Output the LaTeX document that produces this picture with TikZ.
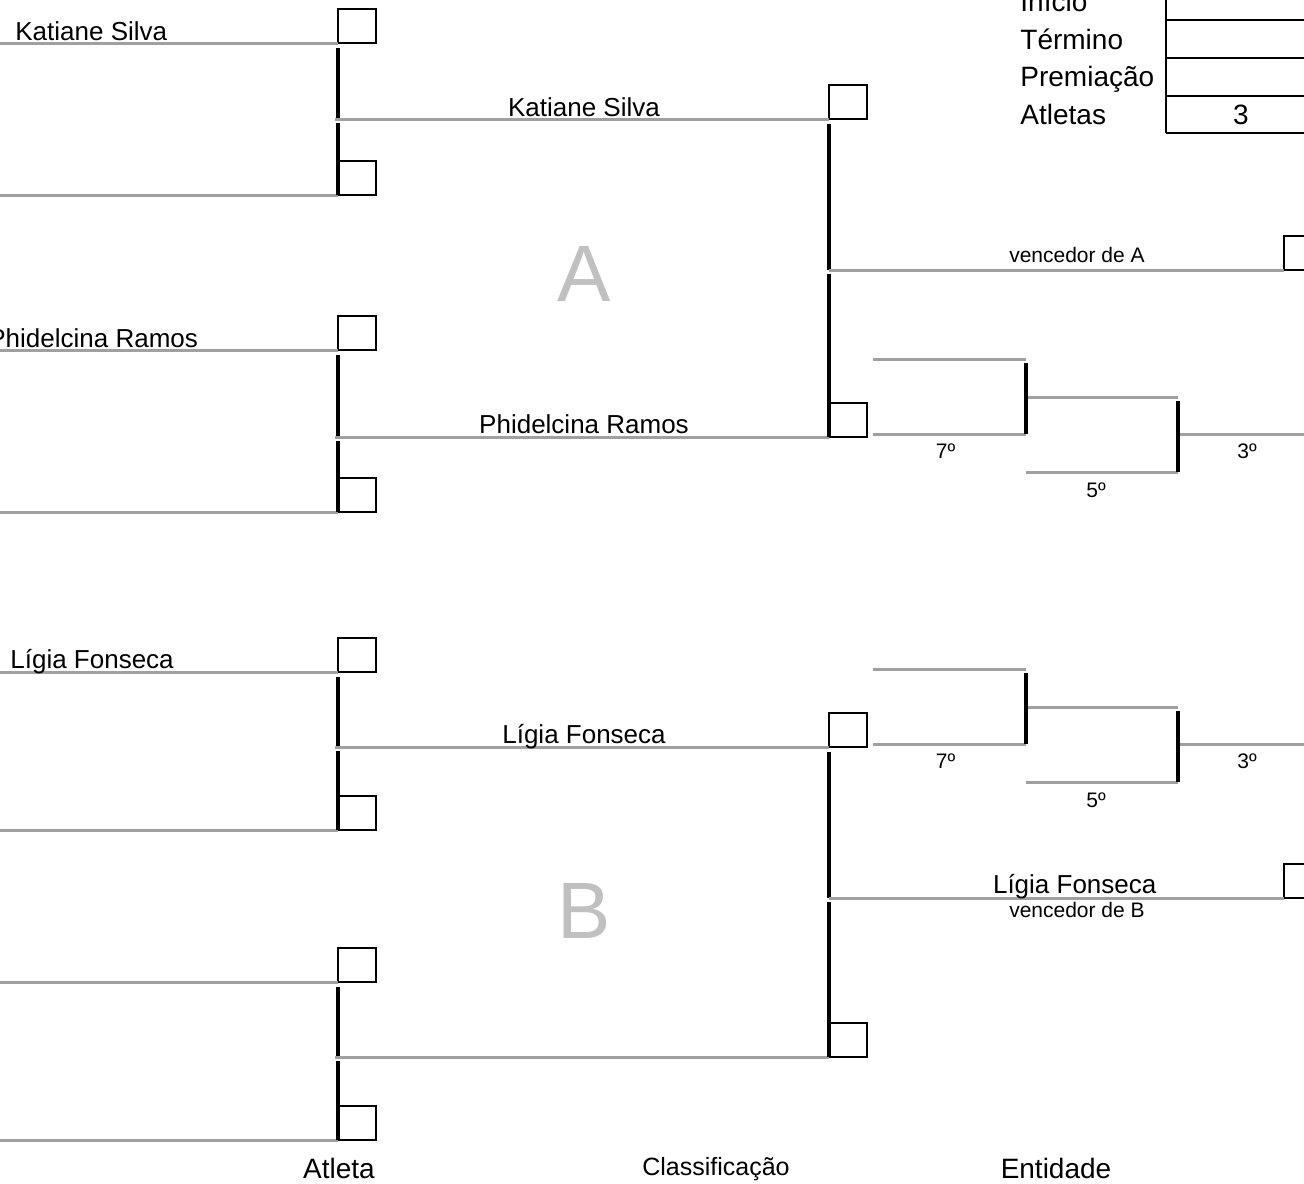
\documentclass[tikz,border=0pt]{standalone}
\usepackage{fontspec}
\setmainfont{Liberation Sans}
\definecolor{linha}{RGB}{160,160,160}
\definecolor{letra}{RGB}{192,192,192}

\begin{document}
\begin{tikzpicture}[x=0.5pt,y=-0.5pt,
  fio/.style={draw=linha,line width=1.5pt},
  chave/.style={draw=black,line width=1.6pt},
  caixa/.style={draw,line width=0.6pt,minimum width=19pt,minimum height=17pt,inner sep=0pt,outer sep=0pt,anchor=south west},
  tabela/.style={draw,line width=0.7pt},
  nome/.style={font=\fontsize{13}{15}\selectfont,inner sep=0pt,anchor=base},
  titulo/.style={font=\fontsize{14}{16}\selectfont,inner sep=0pt,anchor=base},
  lugar/.style={font=\fontsize{10.5}{12}\selectfont,inner sep=0pt,anchor=base},
  grupo/.style={font=\fontsize{40}{44}\selectfont,text=letra,inner sep=0pt,anchor=base}]
\useasboundingbox (0,0) rectangle (1304,1183);
\clip (0,0) rectangle (1304,1183);

% primeira rodada
\foreach \i/\t/\m/\b in {1/43/119/195, 2/350/437/512, 3/672/747/830, 4/982/1057/1140}{
  \node[caixa] (c1t\i) at (338,\t) {};
  \node[caixa] (c1b\i) at (338,\b) {};
  \coordinate (e1t\i) at (0,\t);
  \coordinate (e1b\i) at (0,\b);
  \coordinate (m1\i) at (338,\m);
  \draw[fio] (e1t\i) -- (c1t\i.south west);
  \draw[fio] (e1b\i) -- (c1b\i.south west);
  \draw[chave] ([yshift=-2.5pt]c1t\i.south west) -- (m1\i);
  \draw[chave] ([yshift=-2pt]m1\i) -- (c1b\i.south west);
}
\node[nome,anchor=base west] (n1) at (15,40) {Katiane Silva};
\node[nome,anchor=base west] (n2) at (-12,347) {Phidelcina Ramos};
\node[nome,anchor=base west] (n3) at (10,668) {Lígia Fonseca};

% segunda rodada
\node[caixa] (c2a1) at (829,119) {};
\node[caixa] (c2a2) at (829,437) {};
\node[caixa] (c2b1) at (829,747) {};
\node[caixa] (c2b2) at (829,1057) {};
\draw[fio] ([xshift=-1.5pt]m11) -- node[nome,yshift=1.5pt,xshift=1pt]{Katiane Silva} (c2a1.south west);
\draw[fio] ([xshift=-1.5pt]m12) -- node[nome,yshift=2pt,xshift=1pt]{Phidelcina Ramos} (c2a2.south west);
\draw[fio] ([xshift=-1.5pt]m13) -- node[nome,yshift=2pt,xshift=1pt]{Lígia Fonseca} (c2b1.south west);
\draw[fio] ([xshift=-1.5pt]m14) -- (c2b2.south west);
\coordinate (m2a) at (829,270);
\coordinate (m2b) at (829,898);
\draw[chave] ([yshift=-2.5pt]c2a1.south west) -- (m2a);
\draw[chave] ([yshift=-2pt]m2a) -- (c2a2.south west);
\draw[chave] ([yshift=-2.5pt]c2b1.south west) -- (m2b);
\draw[chave] ([yshift=-2pt]m2b) -- (c2b2.south west);
\node[grupo] (ga) at (584,301) {A};
\node[grupo] (gb) at (584,938) {B};

% vencedores
\node[caixa] (c3a) at (1284,270) {};
\node[caixa] (c3b) at (1284,898) {};
\draw[fio] (m2a) -- node[lugar,pos=0.545,yshift=4pt]{vencedor de A} (c3a.south west);
\draw[fio] (m2b) -- node[nome,pos=0.54,yshift=2.5pt]{Lígia Fonseca}
  node[lugar,pos=0.545,yshift=-9.5pt]{vencedor de B} (c3b.south west);

% disputa de colocação
\foreach \s/\a/\b/\c/\d in {a/359/434/397/472, b/669/744/707/782}{
  \coordinate (s\s1) at (873,\a);
  \coordinate (s\s2) at (1026,\a);
  \coordinate (s\s3) at (873,\b);
  \coordinate (s\s4) at (1026,\b);
  \coordinate (s\s5) at (1026,\c);
  \coordinate (s\s6) at (1178,\c);
  \coordinate (s\s7) at (1026,\d);
  \coordinate (s\s8) at (1178,\d);
  \coordinate (s\s9) at (1304,\b);
  \draw[fio] (s\s1) -- (s\s2);
  \draw[fio] (s\s3) -- node[lugar,yshift=-12pt,xshift=-2pt]{7º} (s\s4);
  \draw[fio] (s\s5) -- (s\s6);
  \draw[fio] (s\s7) -- node[lugar,yshift=-12.5pt,xshift=-3pt]{5º} (s\s8);
  \draw[fio] (s\s8 |- s\s4) -- node[lugar,yshift=-12pt,xshift=3pt]{3º} (s\s9);
  \draw[chave] ([yshift=-2pt]s\s2) -- (s\s4);
  \draw[chave] ([yshift=-2pt]s\s6) -- (s\s8);
}

% quadro
\draw[tabela] (1166,0) -- (1166,133);
\foreach \y in {20,58,96,133} \draw[tabela] (1166,\y) -- (1304,\y);
\node[titulo,anchor=base west] (inicio) at (1020,11) {Início};
\node[titulo,anchor=base west] (termino) at (1020,49) {Término};
\node[titulo,anchor=base west] (premio) at (1020,86) {Premiação};
\node[titulo,anchor=base west] (atletas) at (1020,124) {Atletas};
\node[titulo] (qtd) at (1241,124) {3};

% rodapé
\node[titulo] (atleta) at (339,1178) {Atleta};
\node[titulo,font=\fontsize{12.5}{14}\selectfont] (classif) at (716,1175) {Classificação};
\node[titulo] (entidade) at (1056,1178) {Entidade};
\end{tikzpicture}
\end{document}
